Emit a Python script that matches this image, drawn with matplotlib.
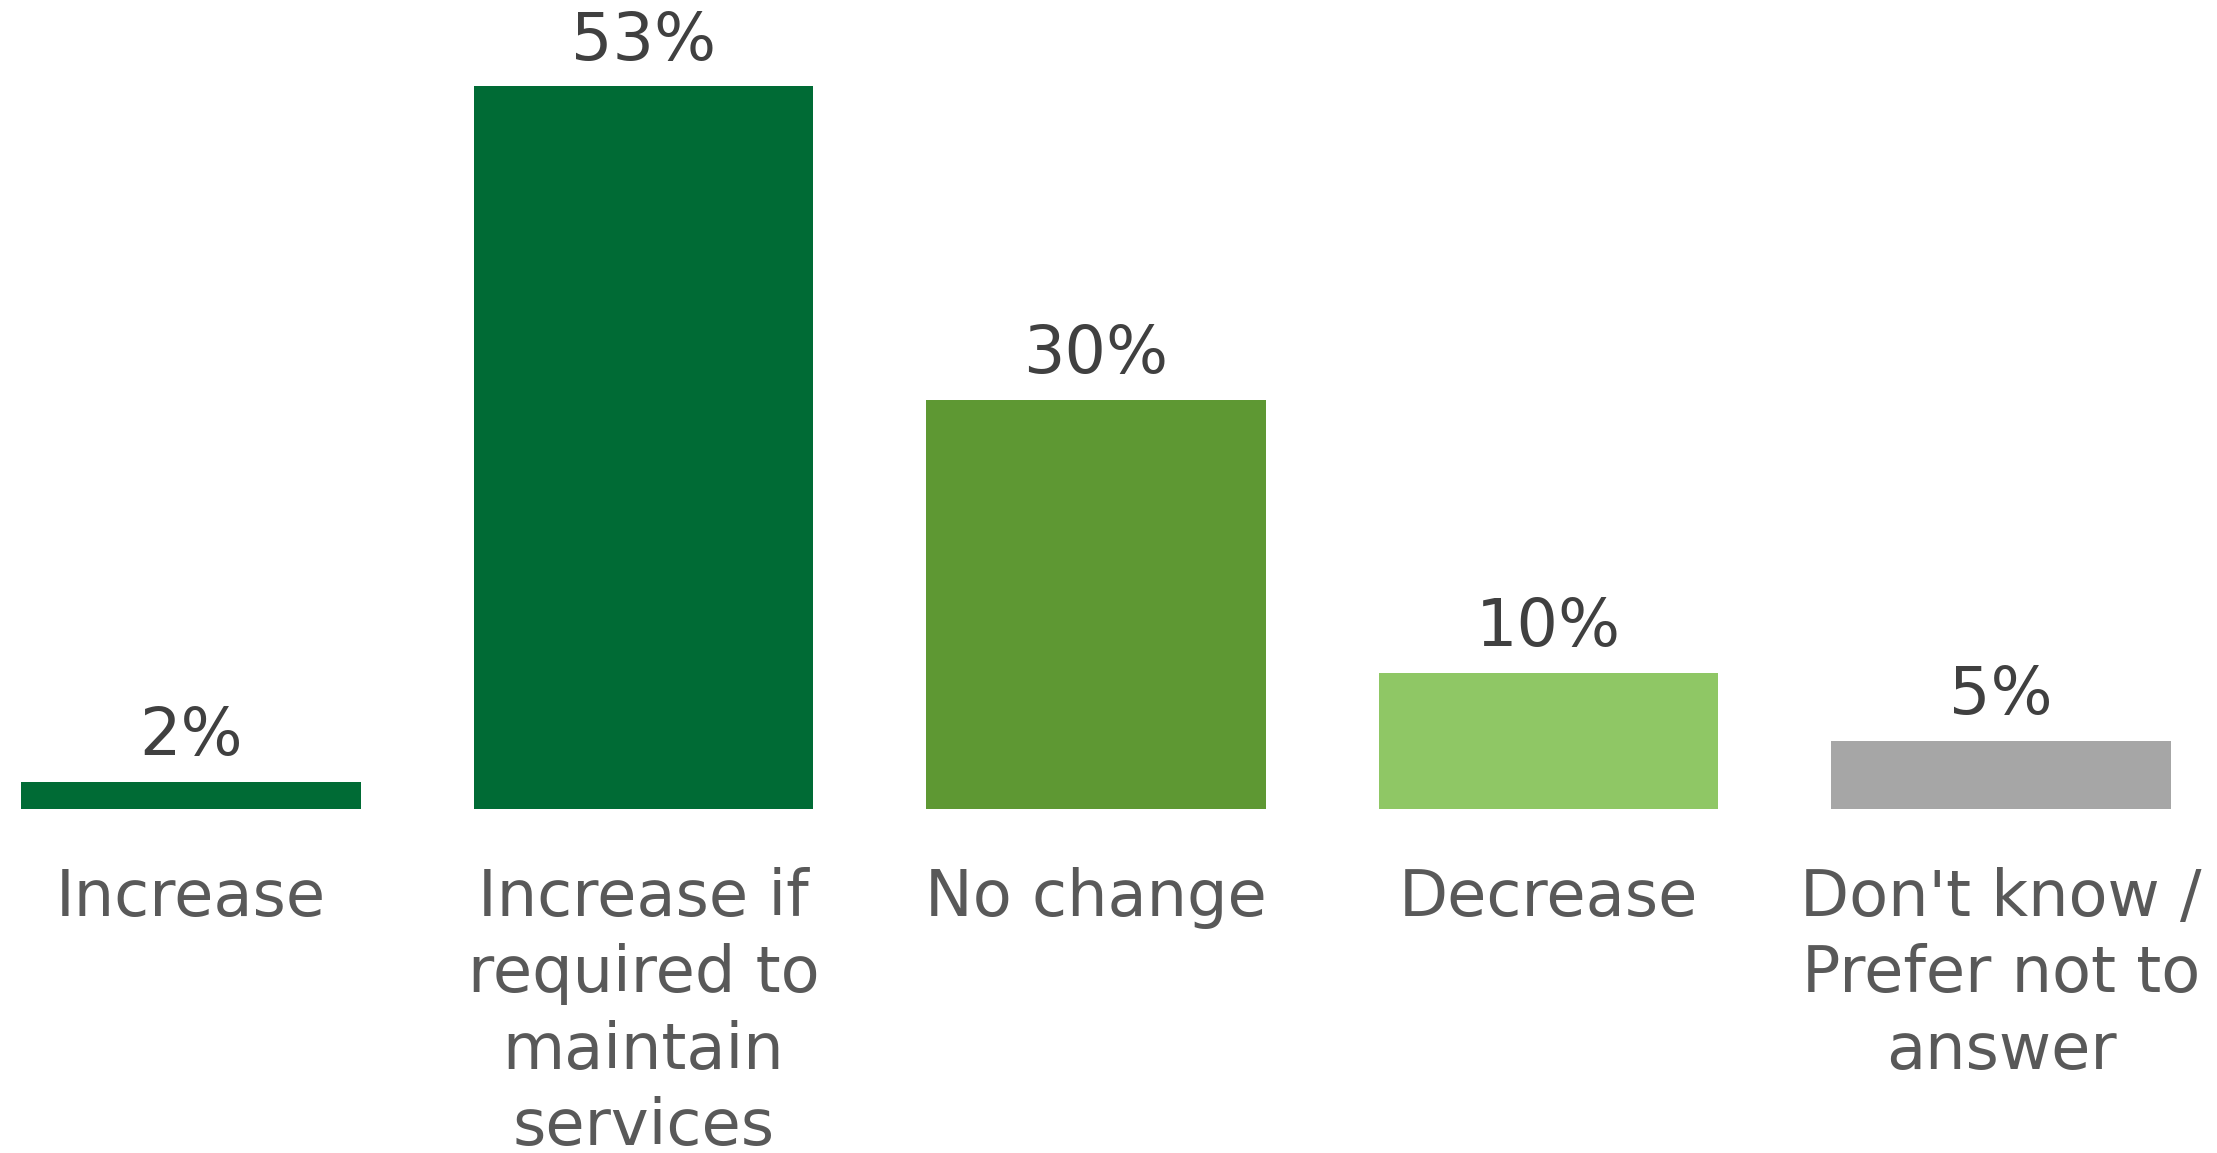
import matplotlib
matplotlib.use("Agg")
import matplotlib.pyplot as plt

categories = [
    "Increase",
    "Increase if\nrequired to\nmaintain\nservices",
    "No change",
    "Decrease",
    "Don't know /\nPrefer not to\nanswer",
]
values = [2, 53, 30, 10, 5]
value_labels = ["2%", "53%", "30%", "10%", "5%"]
colors = ["#006B35", "#006B35", "#5E9833", "#8FC765", "#A6A6A6"]

plt.rcParams["font.family"] = ["DejaVu Sans"]

fig = plt.figure(figsize=(22.17, 11.53), dpi=100)
ax = fig.add_axes([0, 0.2984, 1, 0.627])

x = list(range(len(categories)))
ax.bar(x, values, width=0.75, color=colors, clip_on=False)

ax.set_xlim(-0.422, 4.477)
ax.set_ylim(0, 53)
ax.axis("off")

for xi, v, lab in zip(x, values, value_labels):
    ax.annotate(lab, (xi, v), xytext=(0, 19), textcoords="offset points",
                ha="center", va="baseline", fontsize=47, color="#404040",
                annotation_clip=False)

for xi, cat in zip(x, categories):
    ax.annotate(cat, (xi, 0), xytext=(0, -42), textcoords="offset points",
                ha="center", va="top", fontsize=46, color="#595959",
                linespacing=1.29, multialignment="center",
                annotation_clip=False)

fig.savefig("out.png", dpi=100, facecolor="white")
